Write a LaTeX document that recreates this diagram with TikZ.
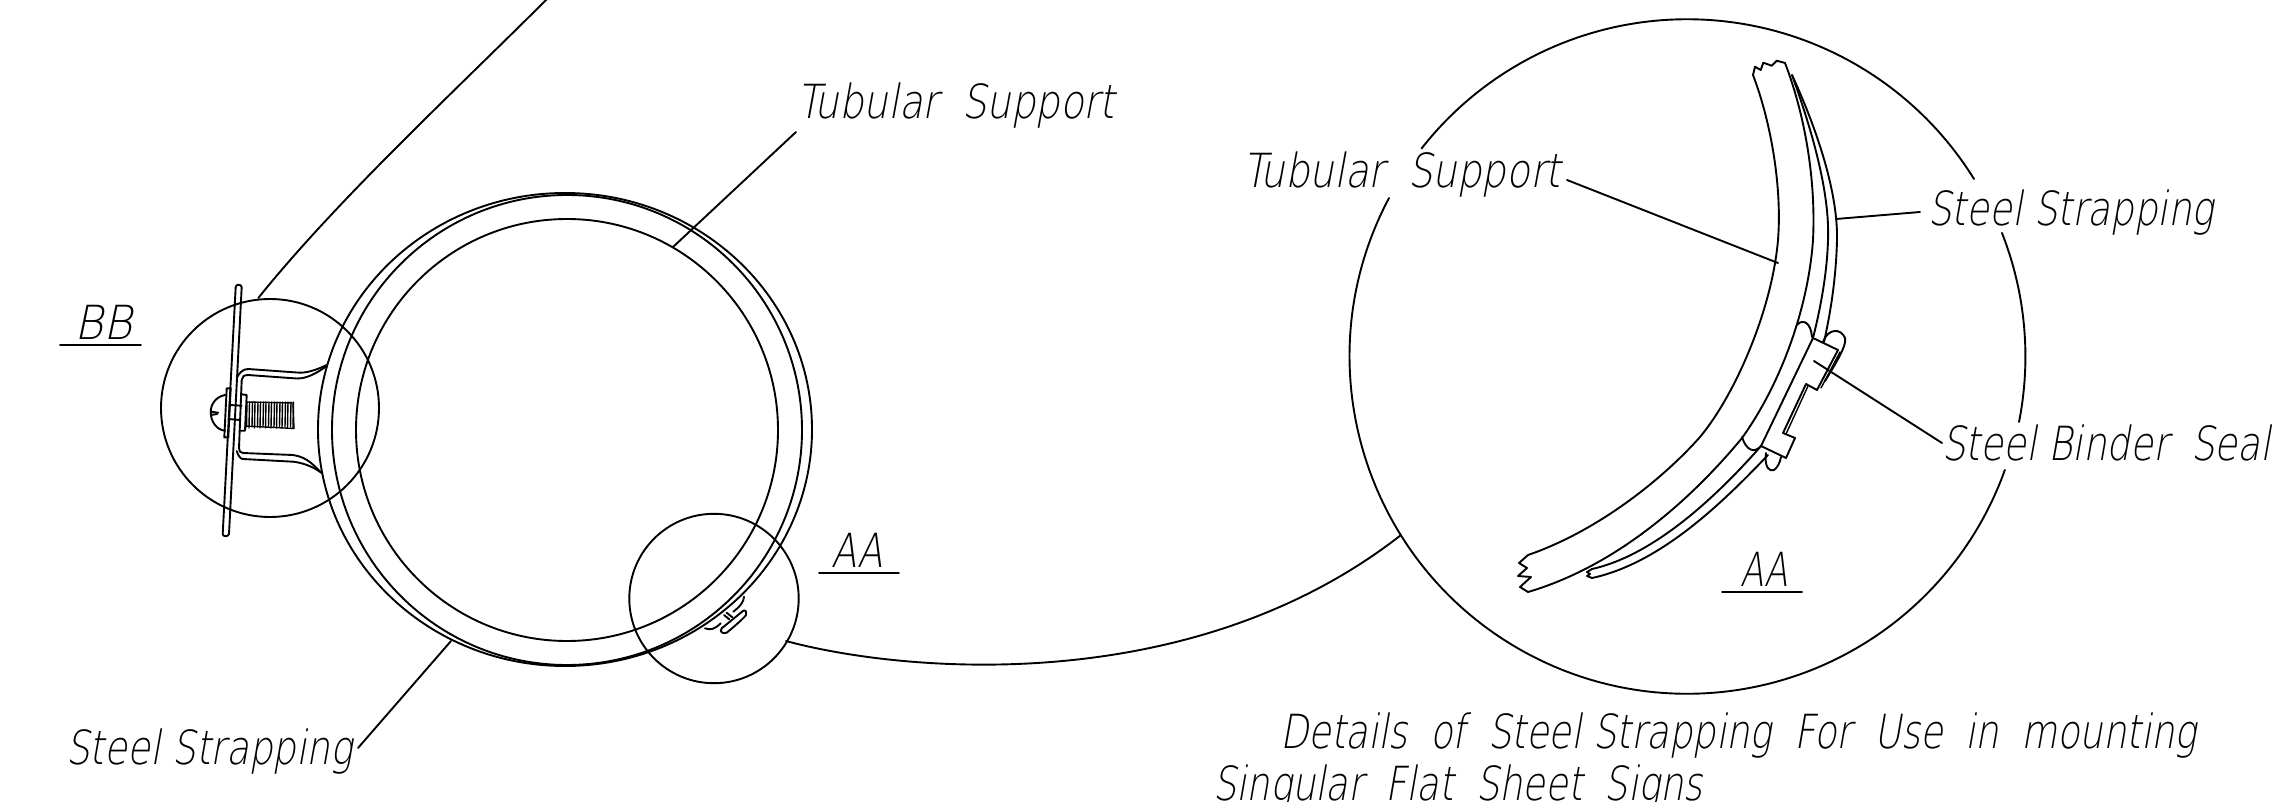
\documentclass[tikz,border=0pt]{standalone}
\usepackage{fontspec}
\usepackage{graphicx}
\setmainfont{DejaVu Sans ExtraLight}[FakeSlant=0.22]
\newcommand{\wsp}{\hspace{0.6em}}
\newcommand{\fitw}[2]{\resizebox{#1pt}{\height}{#2}}
\tikzset{
  ln/.style={line width=1.9pt,line join=round,line cap=round,black},
  fine/.style={line width=1.4pt,line join=round,line cap=round,black},
  lbl/.style={anchor=base west,inner sep=0pt,outer sep=0pt,font=\fontsize{47pt}{52pt}\selectfont}
}
\begin{document}
\begin{tikzpicture}[x=1pt,y=-1pt]
\useasboundingbox (0,0) rectangle (2281,802);
% labels
\node[lbl] (tsL) at (797,119) {\fitw{318}{Tubular\wsp Support}};
\node[lbl] (bbL) at (74,339) {\fitw{58}{BB}};
\node[lbl] (aaL) at (831,567) {\fitw{52}{AA}};
\node[lbl] (ssL) at (66,764) {\fitw{287}{Steel Strapping}};
\node[lbl] (tsR) at (1243,188) {\fitw{318}{Tubular\wsp Support}};
\node[lbl] (ssR) at (1928,226) {\fitw{286}{Steel Strapping}};
\node[lbl] (sbR) at (1942,460) {\fitw{329}{Steel Binder\wsp Seal}};
\node[lbl] (aaR) at (1740,586) {\fitw{48}{AA}};
\node[lbl] (dt1) at (1280,748) {\fitw{917}{Details\wsp of\wsp Steel Strapping\wsp For\wsp Use\wsp in\wsp mounting}};
\node[lbl] (dt2) at (1213,800) {\fitw{490}{Singular\wsp Flat\wsp Sheet\wsp Signs}};
% underlines
\draw[ln] (60,345) -- (141,345);
\draw[ln] (819,573) -- (899,573);
\draw[ln] (1722,592) -- (1802,592);
% left rings
\draw[ln] (567,430) circle[radius=211];
\draw[ln] (567,430) circle[radius=235];
\draw[ln] (565,429.5) ellipse[x radius=247,y radius=236.5];
% detail circles
\draw[ln] (270,408) circle[radius=109];
\draw[ln] (714,598.5) circle[radius=84.7];
% big circle with gaps
\draw[ln] (1974,179) arc[start angle=31.78,end angle=141.9,radius=337.5pt];
\draw[ln] (1389,198) arc[start angle=152.03,end angle=340.33,radius=337.5pt];
\draw[ln] (2019,422) arc[start angle=-11.18,end angle=21.5,radius=337.5pt];
% connecting curves
\draw[ln] (547,-1) .. controls (456,90) and (337,200) .. (258.3,298);
\draw[ln] (786,641) .. controls (900,672) and (1190,700) .. (1401,535);
% leaders
\draw[ln] (796,132) -- (673,247);
\draw[ln] (358,748) -- (451,641);
\draw[ln] (1567,180) -- (1778,263);
\draw[ln] (1920,212) -- (1836,219);
\draw[ln] (1814,361) -- (1942,443);
% BB detail: plate
\draw[ln] (235.7,287) .. controls (236,284) and (241,284) .. (241.7,287) -- (229,534) .. controls (228,537) and (223,537) .. (222.7,534) -- cycle;
% bracket
\draw[ln] (326.7,365) .. controls (310,373) and (302,373) .. (296.7,372.5) -- (248,369) .. controls (243,369) and (239,373) .. (236.7,378);
\draw[ln] (326.7,366) .. controls (310,378) and (302,378.5) .. (296.7,378.5) -- (248,375) .. controls (244,375) and (241.7,377) .. (241.7,380) -- (239,448) .. controls (239,451) and (240,453) .. (243,453) -- (293,455) .. controls (308,457) and (315,467) .. (321.7,473);
\draw[ln] (236.7,451) .. controls (238,455) and (240,459) .. (243,459) -- (293,461.7) .. controls (305,463) and (315,468) .. (321.7,473);
% washers and head
\draw[ln] (226.7,388.3) -- (230.7,388.3) -- (228.3,437.3) -- (224.3,437.3) -- cycle;
\draw[ln] (241.7,394.3) -- (246.7,395) -- (245,430.7) -- (240,430.7);
\draw[ln] (225,395) .. controls (215,397) and (210.7,405) .. (210.7,412) .. controls (210.7,422) and (217,430) .. (225,430.7);
\draw[ln] (210.7,411.7) -- (218.3,412.7);
\draw[ln] (211,415) -- (217.3,414);
\draw[ln] (229.3,405) -- (241.7,405.7);
\draw[ln] (228.3,419) -- (240,420);
% thread
\draw[fine] (247,402) -- (293,403);
\draw[fine] (246,426) -- (294,428.5);
\draw[fine] (293,403) -- (294,428.5);
\foreach \xa in {247,252.5,258,263.5,269,274.5,280,285.5,291}{
  \draw[fine] (\xa,402) -- (\xa-0.5,427);
  \draw[fine] (\xa+2.5,402) -- (\xa+2,428);
}
% AA small seal
\draw[ln] (744,596.7) .. controls (743.5,601) and (742,605) .. (733.3,611.7);
\draw[ln] (721.7,628.3) -- (743.3,610.7) .. controls (746,609.5) and (747,613) .. (746,615) .. controls (745,617) and (735,626) .. (726.7,632.7) .. controls (723,634) and (719,632) .. (721.7,628.3);
\draw[ln] (724,615) -- (729.3,619.3);
\draw[ln] (726.7,612.7) -- (732.3,617.3);
\draw[ln] (705,628.3) .. controls (710,630) and (714,630) .. (720.7,623.3);
% AA detail: tube
\draw[ln] (1753,75) .. controls (1772,125) and (1782,190) .. (1778,240) .. controls (1772,310) and (1735,395) .. (1700,437) .. controls (1660,482) and (1595,532) .. (1528,555);
\draw[ln] (1785,63) .. controls (1805,115) and (1816,180) .. (1813,240) .. controls (1808,310) and (1780,385) .. (1742,438) .. controls (1695,495) and (1620,565) .. (1528,592);
% torn ends
\draw[ln] (1753,75) -- (1755,66.7) -- (1760.7,70) -- (1763.3,62.7) -- (1771.7,65.7) -- (1776.7,60.7) -- (1785,63);
\draw[ln] (1528,555) -- (1519,563) -- (1527,568) -- (1518,576) -- (1531,577) -- (1520,587) -- (1528,592);
% strap
\draw[ln] (1792,75) .. controls (1810,125) and (1830,190) .. (1828,240) .. controls (1827,275) and (1820,310) .. (1813,338);
\draw[ln] (1792,75) .. controls (1815,125) and (1838,190) .. (1837,240) .. controls (1836,280) and (1830,315) .. (1824,342);
\draw[ln] (1761,446) .. controls (1718,495) and (1655,555) .. (1592,569);
\draw[ln] (1768,455) .. controls (1725,500) and (1662,563) .. (1592,578);
\draw[ln] (1592,569) -- (1587,572) -- (1590,574) -- (1587,576) -- (1592,578);
% seal body
\draw[ln] (1813,338) -- (1838,350) -- (1817,390) -- (1806,384) -- (1783,433) -- (1795,438) -- (1786,458) -- (1761,446) -- cycle;
\draw[fine] (1808,386) -- (1786,434);
\draw[fine] (1840,352) -- (1821,388);
% seal lobes
\draw[ln] (1797,325) .. controls (1803,318) and (1811,323) .. (1812,337);
\draw[ln] (1742,437) .. controls (1746,450) and (1754,454) .. (1761,446);
\draw[ln] (1823,342) .. controls (1828,328) and (1841,328) .. (1845,338) .. controls (1846,344) and (1843,352) .. (1825,381);
\draw[ln] (1766,453) .. controls (1764,468) and (1770,472) .. (1774,470) .. controls (1777,468) and (1780,463) .. (1781,457);
\end{tikzpicture}
\end{document}
